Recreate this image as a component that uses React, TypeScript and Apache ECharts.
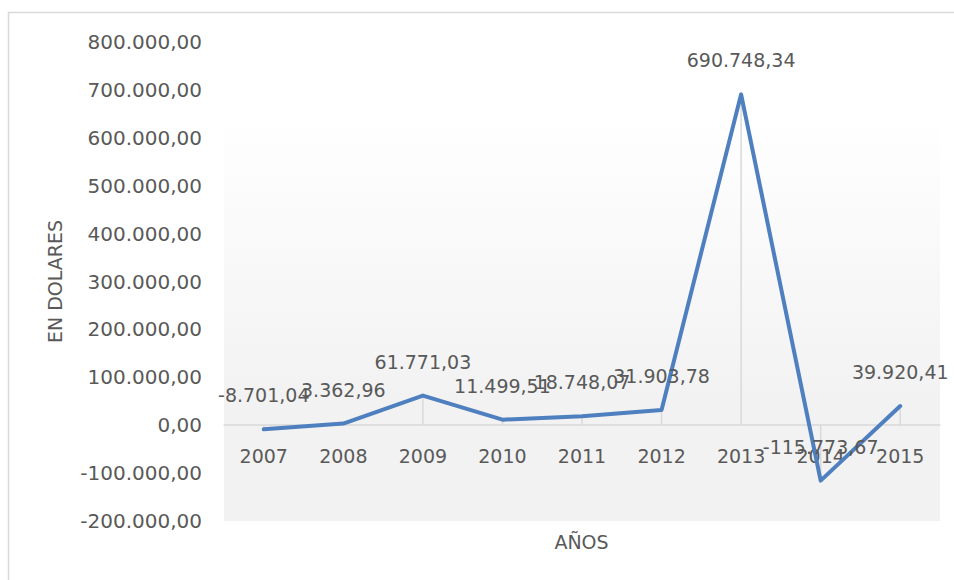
import React, { useEffect, useRef } from "react";
import * as echarts from "echarts";

const years = ["2007", "2008", "2009", "2010", "2011", "2012", "2013", "2014", "2015"];
const values = [-8701.04, 3362.96, 61771.03, 11499.51, 18748.07, 31903.78, 690748.34, -115773.67, 39920.41];
const yMin = -200000;
const yMax = 800000;
const yStep = 100000;
const xTitle = "AÑOS";
const yTitle = "EN DOLARES";

function fmt(n: number): string {
  const neg = n < 0;
  const abs = Math.abs(n);
  const fixed = abs.toFixed(2);
  const [intPart, dec] = fixed.split(".");
  const withDots = intPart.replace(/\B(?=(\d{3})+(?!\d))/g, ".");
  return (neg ? "-" : "") + withDots + "," + dec;
}

const FONT = "DejaVu Sans";
const TXT = "#595959";
const GRID_TOP = 42;
const GRID_BOTTOM = 59;
const H = 580;

export default function App() {
  const ref = useRef<HTMLDivElement>(null);
  useEffect(() => {
    if (!ref.current) return;
    const chart = echarts.init(ref.current, undefined, { renderer: "svg" });
    const gridH = H - GRID_TOP - GRID_BOTTOM;
    const zeroOffset = ((0 - yMin) / (yMax - yMin)) * gridH;
    chart.setOption({
      animation: false,
      backgroundColor: "#ffffff",
      grid: {
        left: 224,
        right: 14,
        top: GRID_TOP,
        bottom: GRID_BOTTOM,
        show: true,
        borderWidth: 0,
        backgroundColor: new echarts.graphic.LinearGradient(0, 0, 0, 1, [
          { offset: 0, color: "#ffffff" },
          { offset: 0.15, color: "#ffffff" },
          { offset: 0.75, color: "#f2f2f2" },
          { offset: 1, color: "#f2f2f2" },
        ]),
      },
      graphic: [
        {
          type: "rect",
          shape: { x: 8.5, y: 12.5, width: 1000, height: 700 },
          style: { fill: "none", stroke: "#d9d9d9", lineWidth: 1.5 },
          silent: true,
          z: -10,
        },
        {
          type: "text",
          x: 581.5,
          y: 542,
          style: {
            text: xTitle,
            fill: TXT,
            font: `19px "${FONT}"`,
            textAlign: "center",
            textVerticalAlign: "middle",
          },
        },
      ],
      xAxis: {
        type: "category",
        data: years,
        boundaryGap: true,
        offset: -zeroOffset,
        axisLine: { onZero: false, lineStyle: { color: "#d9d9d9", width: 1.5 } },
        axisTick: { show: false },
        splitLine: { show: false },
        axisLabel: { color: TXT, fontFamily: FONT, fontSize: 19, margin: 21 },
      },
      yAxis: {
        type: "value",
        min: yMin,
        max: yMax,
        interval: yStep,
        name: yTitle,
        nameLocation: "middle",
        nameGap: 160,
        nameRotate: 90,
        nameTextStyle: { color: TXT, fontFamily: FONT, fontSize: 19 },
        axisLine: { show: false },
        axisTick: { show: false },
        splitLine: { show: false },
        axisLabel: {
          color: TXT,
          fontFamily: FONT,
          fontSize: 20,
          margin: 22,
          formatter: (v: number) => fmt(v),
        },
      },
      series: [
        {
          type: "bar",
          data: values,
          barWidth: 1.5,
          itemStyle: { color: "#d9d9d9" },
          silent: true,
          z: 1,
        },
        {
          type: "line",
          data: values,
          symbol: "circle",
          symbolSize: 1,
          showSymbol: true,
          itemStyle: { color: "#4e7fbf" },
          lineStyle: { color: "#4e7fbf", width: 4, join: "round", cap: "round" },
          z: 3,
          label: {
            show: true,
            position: "top",
            distance: 24,
            color: TXT,
            fontFamily: FONT,
            fontSize: 19,
            formatter: (p: any) => fmt(p.value),
          },
        },
      ],
    });
    return () => chart.dispose();
  }, []);
  return (
    <div
      ref={ref}
      style={{ position: "absolute", left: 0, top: 0, width: 954, height: 580 }}
    />
  );
}
